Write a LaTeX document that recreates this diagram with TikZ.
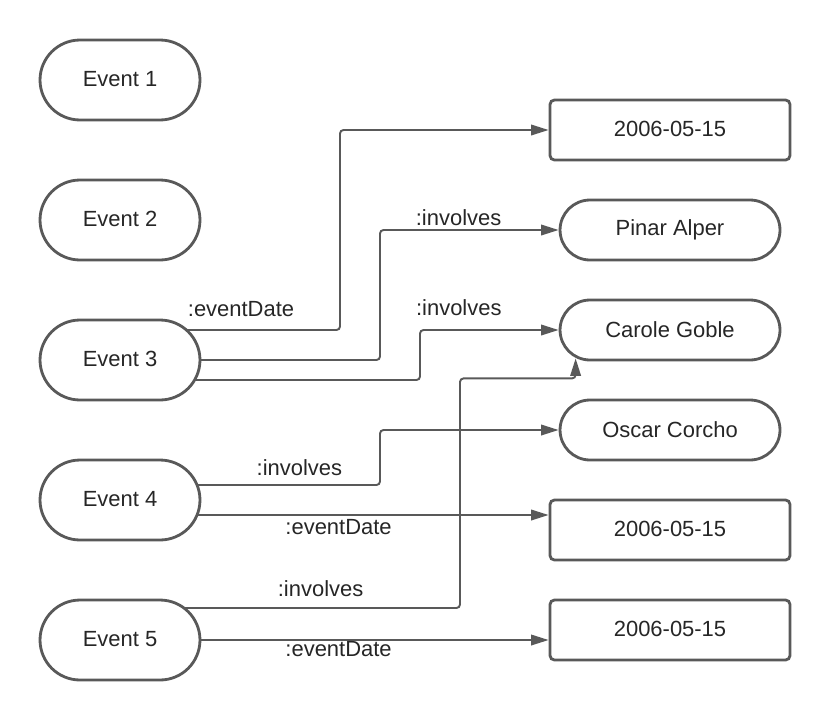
\documentclass[tikz,border=0pt]{standalone}
\usepackage{fontspec}
\setmainfont{Liberation Sans}
\usetikzlibrary{arrows.meta,backgrounds}

\definecolor{edge}{HTML}{595959}
\definecolor{ink}{HTML}{262626}

\begin{document}
\begin{tikzpicture}[x=0.02cm,y=-0.02cm,
  font=\fontsize{12.5}{15}\selectfont,text=ink,
  event/.style={draw=edge,line width=1.6pt,fill=white,minimum width=3.2cm,minimum height=1.6cm,rounded corners=0.8cm},
  person/.style={draw=edge,line width=1.6pt,fill=white,minimum width=4.4cm,minimum height=1.2cm,rounded corners=0.6cm},
  date/.style={draw=edge,line width=1.6pt,fill=white,minimum width=4.8cm,minimum height=1.2cm,rounded corners=2.5pt},
  link/.style={draw=edge,line width=1.1pt,rounded corners=2pt,-{Triangle[length=10pt,width=6pt]}},
  lbl/.style={inner sep=0pt,text=ink}]
\useasboundingbox (0,0) rectangle (830,720);

% events
\node[event] (ev1) at (120,80)  {\raisebox{1pt}{Event 1}};
\node[event] (ev2) at (120,220) {\raisebox{1pt}{Event 2}};
\node[event] (ev3) at (120,360) {\raisebox{1pt}{Event 3}};
\node[event] (ev4) at (120,500) {\raisebox{1pt}{Event 4}};
\node[event] (ev5) at (120,640) {\raisebox{1pt}{Event 5}};

% values
\node[date]   (d1) at (670,130) {\raisebox{1pt}{2006-05-15}};
\node[person] (p1) at (670,230) {\raisebox{1pt}{Pinar Alper}};
\node[person] (p2) at (670,330) {\raisebox{1pt}{Carole Goble}};
\node[person] (p3) at (670,430) {\raisebox{1pt}{Oscar Corcho}};
\node[date]   (d2) at (670,530) {\raisebox{1pt}{2006-05-15}};
\node[date]   (d3) at (670,630) {\raisebox{1pt}{2006-05-15}};

\coordinate (cgin) at ([xshift=0.34cm,yshift=0.06cm]p2.south west);

\begin{scope}[on background layer]
% Event 3
\draw[link] (ev3.center) ++(0,-30) -- node[lbl,above=7pt,pos=0.55]{:eventDate} ++(220,0) |- (d1.west);
\draw[link] (ev3.center) -- ++(260,0) |- node[lbl,above=2pt,pos=0.72]{:involves} (p1.west);
\draw[link] (ev3.center) ++(0,20) -- ++(300,0) |- node[lbl,above=7.5pt,pos=0.64]{:involves} (p2.west);

% Event 4
\draw[link] (ev4.center) ++(0,-15) -- node[lbl,above=5pt,pos=0.69]{:involves} ++(260,0) |- (p3.west);
\draw[link] ([yshift=-0.3cm]ev4.center) -- node[lbl,below=2pt,pos=0.51]{:eventDate} ([yshift=-0.3cm]ev4.center -| d2.west);

% Event 5
\draw[link] (ev5.center) ++(0,-32) -- node[lbl,above=6pt,pos=0.59]{:involves} ++(340,0) |- ([yshift=-0.4cm]cgin) -- (cgin);
\draw[link] (ev5.center) -- node[lbl,below=0pt,pos=0.51]{:eventDate} (ev5.center -| d3.west);
\end{scope}

\end{tikzpicture}
\end{document}
